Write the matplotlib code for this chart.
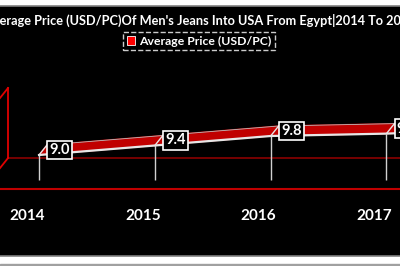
import matplotlib
matplotlib.use('Agg')
import matplotlib.pyplot as plt
import matplotlib.transforms as mtransforms
from matplotlib.patches import Patch, Rectangle
import numpy as np

# Dados
years = ['2014', '2015', '2016', '2017', '2018']
prices = [9.0, 9.4, 9.8, 9.9, 10.1]
labels = ['9.0', '9.4', '9.8', '9.9', '10.1']
title = "Average Price (USD/PC)Of Men's Jeans Into USA From Egypt|2014 To 2018"
series_name = 'Average Price (USD/PC)'

# Cores
red = '#c00000'
dark_red = '#8b0000'
edge = '#e6e6e6'

plt.rcParams['font.family'] = ['Lato', 'DejaVu Sans']

fig = plt.figure(figsize=(4, 2.66), dpi=100)
fig.patch.set_facecolor('white')
ax = fig.add_axes([0, 10 / 266, 1, 250 / 266])
ax.set_facecolor('black')
ax.set_xlim(-0.337, 3.117)
ax.set_ylim(4.747, 15.274)
ax.set_xticks([])
ax.set_yticks([])
for s in ['left', 'right']:
    ax.spines[s].set_visible(False)
for s in ['top', 'bottom']:
    ax.spines[s].set_color('#808080')
    ax.spines[s].set_linewidth(1.2)

x = np.arange(len(years))
y = np.array(prices)

# "chao" e parede do grafico 3D
floor_back = 8.87
floor_front = 7.57
wall_top = 11.82
wall_x = -0.268
drop_bottom = 7.95
label_y = 6.45

# profundidade do efeito 3D em pixels
depth = np.array([8, 10])
to_disp = ax.transData
to_data = ax.transData.inverted()


def shift(px, py):
    pts = to_disp.transform(np.column_stack([px, py])) + depth
    return to_data.transform(pts)


ax.plot([wall_x, 3.2], [floor_back, floor_back], color=dark_red, lw=1.2)
ax.axhline(floor_front, color=red, lw=1.5)
ax.plot([wall_x, wall_x], [floor_back, wall_top], color='#e00000', lw=1.3)
for wy in [floor_back, wall_top]:
    p = shift([wall_x], [wy])[0]
    d = 2 * np.array([wall_x, wy]) - p
    ax.plot([wall_x, d[0]], [wy, d[1]], color='#e00000', lw=1.3)

# linhas de queda
ax.vlines(x, drop_bottom, y, color='#d0d0d0', lw=1)

# fita 3D
back = shift(x, y)
poly_x = np.concatenate([x, back[::-1, 0]])
poly_y = np.concatenate([y, back[::-1, 1]])
ax.fill(poly_x, poly_y, color=red, zorder=3)
ax.plot(back[:, 0], back[:, 1], color='#bbbbbb', lw=0.6, zorder=4)
for i in range(len(x)):
    ax.plot([x[i], back[i, 0]], [y[i], back[i, 1]], color=edge, lw=1, zorder=4)
ax.plot(x, y, color=edge, lw=1.6, zorder=4)

# rotulos de dados
for xi, yi, lab in zip(x, y, labels):
    ax.annotate(lab, (xi, yi), xytext=(14.8, 3.6), textcoords='offset points',
                ha='center', va='center', color='white', fontsize=10.5,
                fontweight='bold', zorder=6,
                bbox=dict(boxstyle='square,pad=0.15', fc='black', ec='white', lw=1.2))

# rotulos do eixo x
off = mtransforms.ScaledTranslation(-12 / 100, 0, fig.dpi_scale_trans)
for xi, yr in zip(x, years):
    ax.text(xi, label_y, yr, transform=ax.transData + off, ha='center', va='center',
            color='white', fontsize=11, fontweight='bold')

fig.text(0.5, 1 - 20 / 266, title, ha='center', va='center', color='white',
         fontsize=9.2, fontweight='bold')

leg = fig.legend([Patch(facecolor='#ff0000', edgecolor='white', lw=0.6)], [series_name],
                 loc='center', bbox_to_anchor=(199 / 400, 1 - 41 / 266),
                 frameon=True, fontsize=8.8, handlelength=0.7, handleheight=0.7,
                 handletextpad=0.3, borderpad=0.3, fancybox=False)
leg.get_frame().set_facecolor('black')
leg.get_frame().set_edgecolor('white')
leg.get_frame().set_linestyle('--')
for t in leg.get_texts():
    t.set_color('white')
    t.set_fontweight('bold')

fig.add_artist(Rectangle((0, 0), 1, 2.5 / 266, transform=fig.transFigure,
                         color='#a0a0a0'))

fig.savefig('out.png', dpi=100, facecolor=fig.get_facecolor())
